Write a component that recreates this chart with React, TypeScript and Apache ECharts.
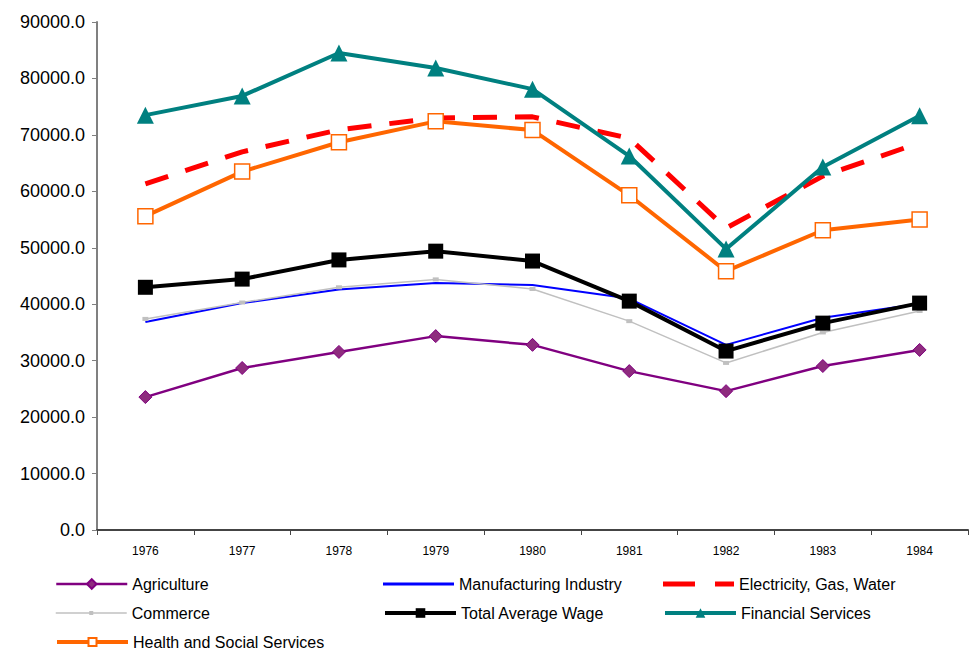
import React, { useEffect, useRef } from "react";
import * as echarts from "echarts";

const years = ["1976", "1977", "1978", "1979", "1980", "1981", "1982", "1983", "1984"];
const yTicks = { min: 0, max: 90000, interval: 10000 };

const agriculture = [23550, 28700, 31550, 34350, 32800, 28150, 24600, 29050, 31900];
const manufacturing = [36850, 40200, 42600, 43750, 43400, 41000, 32800, 37600, 40100];
const electricity = [61300, 67000, 70900, 73000, 73200, 69400, 53500, 62700, 68600];
const commerce = [37400, 40300, 43000, 44400, 42700, 37000, 29600, 35000, 38800];
const totalWage = [43000, 44450, 47850, 49400, 47650, 40550, 31700, 36650, 40200];
const financial = [73500, 76900, 84500, 81850, 78100, 66250, 49800, 64300, 73400];
const health = [55600, 63500, 68700, 72400, 70850, 59300, 45850, 53100, 55000];

const FONT = "'Liberation Sans', Arial, sans-serif";

export default function App() {
  const ref = useRef<HTMLDivElement>(null);
  useEffect(() => {
    if (!ref.current) return;
    const chart = echarts.init(ref.current, undefined, { renderer: "svg" });
    const legendText = { fontSize: 16, color: "#000", fontFamily: FONT };
    const leg = (name: string, left: number, cy: number, itemHeight: number, icon?: string) => ({
      left,
      top: cy - 8,
      padding: 0,
      itemWidth: 71,
      itemHeight,
      itemGap: 0,
      textStyle: legendText,
      lineStyle: { width: "inherit" },
      data: [icon ? { name, icon } : name],
    });
    const c1 = 55, c2 = 383, c3 = 663;
    const r1 = 584, r2 = 613, r3 = 642;
    chart.setOption({
      animation: false,
      backgroundColor: "#fff",
      grid: { left: 97, right: 6, top: 22, bottom: 123, containLabel: false },
      xAxis: {
        type: "category",
        data: years,
        boundaryGap: true,
        axisLine: { lineStyle: { color: "#444", width: 2 } },
        axisTick: { show: true, length: 5, lineStyle: { color: "#444", width: 1 } },
        axisLabel: {
          fontSize: 12,
          color: "#000",
          fontFamily: "'Liberation Sans Narrow', 'Arial Narrow', " + FONT,
          margin: 15,
        },
        splitLine: { show: false },
      },
      yAxis: {
        type: "value",
        min: yTicks.min,
        max: yTicks.max,
        interval: yTicks.interval,
        axisLine: { show: true, lineStyle: { color: "#808080", width: 2 } },
        axisTick: { show: true, length: 5, lineStyle: { color: "#808080", width: 1 } },
        axisLabel: {
          fontSize: 18,
          color: "#000",
          fontFamily: FONT,
          margin: 12,
          formatter: (v: number) => v.toFixed(1),
        },
        splitLine: { show: false },
      },
      legend: [
        leg("Agriculture", c1, r1, 12),
        leg("Commerce", c1, r2, 5),
        leg("Health and Social Services", c1, r3, 10),
        leg("Manufacturing Industry", c2, r1, 3, "path://M0,0h71v3h-71z"),
        leg("Total Average Wage", c2, r2, 12),
        leg("Electricity, Gas, Water", c3, r1, 5, "path://M0,0h32v5h-32z M52,0h19v5h-19z"),
        leg("Financial Services", c3, r2, 12),
      ],
      series: [
        {
          name: "Agriculture",
          type: "line",
          data: agriculture,
          symbol: "diamond",
          symbolSize: 13,
          lineStyle: { color: "#800080", width: 2.5 },
          itemStyle: { color: "#8E2C7E", borderColor: "#800080", borderWidth: 1 },
        },
        {
          name: "Manufacturing Industry",
          type: "line",
          data: manufacturing,
          symbol: "none",
          showSymbol: false,
          lineStyle: { color: "#0000FF", width: 2 },
          itemStyle: { color: "#0000FF" },
        },
        {
          name: "Electricity, Gas, Water",
          type: "line",
          data: electricity,
          symbol: "none",
          showSymbol: false,
          lineStyle: { color: "#FF0000", width: 5, type: [24, 18] },
          itemStyle: { color: "#FF0000" },
        },
        {
          name: "Commerce",
          type: "line",
          data: commerce,
          symbol: "rect",
          symbolSize: [6, 4],
          lineStyle: { color: "#C0C0C0", width: 1.5 },
          itemStyle: { color: "#C0C0C0" },
        },
        {
          name: "Total Average Wage",
          type: "line",
          data: totalWage,
          symbol: "rect",
          symbolSize: 15,
          lineStyle: { color: "#000000", width: 4 },
          itemStyle: { color: "#000000" },
        },
        {
          name: "Financial Services",
          type: "line",
          data: financial,
          symbol: "triangle",
          symbolSize: 17,
          lineStyle: { color: "#008080", width: 4 },
          itemStyle: { color: "#008080" },
        },
        {
          name: "Health and Social Services",
          type: "line",
          data: health,
          symbol: "rect",
          symbolSize: 15,
          lineStyle: { color: "#FF6600", width: 4 },
          itemStyle: { color: "#FFFFFF", borderColor: "#FF6600", borderWidth: 1.5 },
        },
      ],
    });
    return () => chart.dispose();
  }, []);
  return <div ref={ref} style={{ width: 974, height: 653, position: "absolute", left: 0, top: 0 }} />;
}
